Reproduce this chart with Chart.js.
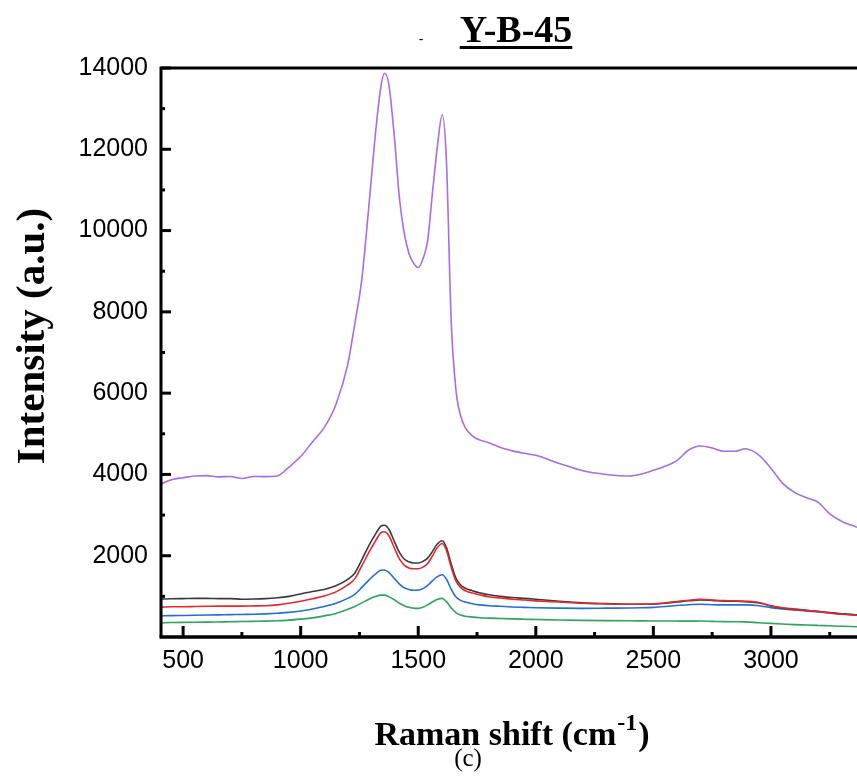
<!DOCTYPE html>
<html>
<head>
<meta charset="utf-8">
<script src="https://cdn.jsdelivr.net/npm/chart.js@4.4.1/dist/chart.umd.min.js"></script>
<style>
  html, body { margin: 0; padding: 0; background: #ffffff; }
  #wrap { position: relative; width: 857px; height: 776px; }
</style>
</head>
<body>
<div id="wrap"><canvas id="raman" width="857" height="776"></canvas></div>
<script>
// Raman shift sampling positions (cm-1)
const ramanShift = [406,450,500,550,600,650,700,750,800,850,900,950,1000,1050,1100,1150,1200,1230,1260,1290,1320,1340,1356,1375,1400,1420,1440,1460,1480,1500,1520,1540,1560,1580,1602,1620,1640,1660,1680,1700,1730,1760,1800,1850,1900,1950,2000,2100,2200,2300,2400,2450,2500,2550,2600,2650,2700,2750,2800,2850,2890,2950,3000,3050,3100,3150,3200,3250,3300,3366];

// Intensity of each spectrum (a.u.)
const violetSpectrum = [3760,3870,3920,3960,3970,3940,3950,3900,3950,3945,3960,4180,4440,4800,5150,5720,6700,7700,8800,10600,12500,13500,13870,13600,12200,10800,9950,9450,9200,9090,9300,9750,10900,12000,12850,11700,7800,6100,5450,5150,4950,4850,4780,4660,4580,4520,4470,4270,4090,4000,3960,4010,4100,4200,4340,4600,4700,4650,4570,4570,4630,4470,4150,3780,3560,3430,3320,3030,2850,2700];
const blackSpectrum = [935,940,945,950,950,945,945,930,935,945,965,1000,1060,1120,1170,1260,1420,1570,1900,2250,2550,2720,2750,2650,2330,2080,1920,1850,1820,1820,1860,1940,2100,2280,2370,2200,1800,1450,1280,1200,1140,1090,1040,1000,970,950,930,880,840,820,805,805,810,830,860,890,910,900,880,880,870,840,760,710,680,655,630,600,570,545];
const redSpectrum = [735,745,745,750,755,760,760,760,765,770,790,830,880,940,1010,1110,1280,1430,1750,2080,2380,2560,2590,2490,2170,1920,1770,1700,1680,1680,1720,1810,1990,2190,2300,2130,1720,1380,1220,1140,1080,1040,990,960,930,910,890,860,830,815,805,808,815,840,875,905,925,910,895,890,880,850,770,720,690,660,625,590,560,535];
const blueSpectrum = [520,525,530,535,540,545,550,555,560,570,585,605,640,690,750,830,950,1050,1220,1400,1560,1640,1650,1590,1430,1300,1210,1170,1150,1155,1190,1270,1380,1480,1530,1420,1180,990,900,860,820,790,770,755,740,730,720,710,705,710,715,720,730,750,775,795,805,795,790,790,790,770,720,690,665,640,620,595,570,545];
const greenSpectrum = [350,355,360,362,365,370,375,380,385,390,400,415,440,470,520,580,680,750,840,930,1000,1030,1030,990,910,830,770,730,710,705,730,790,860,920,950,870,720,600,540,510,490,475,465,455,445,438,432,420,410,403,398,396,395,395,392,390,392,385,378,375,372,350,335,320,305,295,285,275,265,253];

// Axis ticks
const xMajorTicks = [500,1000,1500,2000,2500,3000];
const xMinorTicks = [750,1250,1750,2250,2750,3250];
const yMajorTicks = [2000,4000,6000,8000,10000,12000,14000];
const yMinorTicks = [1000,3000,5000,7000,9000,11000,13000];

const serif = "'Liberation Serif', 'Times New Roman', serif";
const sans = "'Liberation Sans', Arial, sans-serif";

function series(values, color) {
  return {
    data: ramanShift.map((x, i) => ({ x: x, y: values[i] })),
    borderColor: color,
    borderWidth: 1.6,
    pointRadius: 0,
    fill: false,
    cubicInterpolationMode: 'monotone'
  };
}

// Frame, inward tick marks and text around the plot
const framePlugin = {
  id: 'frame',
  afterDatasetsDraw(chart) {
    const { ctx, chartArea: a, scales: { x, y } } = chart;
    ctx.save();
    ctx.strokeStyle = '#000';
    ctx.lineCap = 'butt';

    ctx.lineWidth = 3;
    ctx.beginPath();
    ctx.moveTo(a.left, a.bottom);
    ctx.lineTo(a.left, a.top);
    ctx.lineTo(a.right, a.top);
    ctx.stroke();

    ctx.lineWidth = 3.5;
    ctx.beginPath();
    ctx.moveTo(a.left - 1.5, a.bottom);
    ctx.lineTo(a.right, a.bottom);
    ctx.stroke();

    ctx.lineWidth = 3;
    const seg = (x1, y1, x2, y2) => { ctx.beginPath(); ctx.moveTo(x1, y1); ctx.lineTo(x2, y2); ctx.stroke(); };
    xMajorTicks.forEach(v => { const p = x.getPixelForValue(v); seg(p, a.bottom, p, a.bottom - 11); });
    xMinorTicks.forEach(v => { const p = x.getPixelForValue(v); seg(p, a.bottom, p, a.bottom - 5); });
    yMajorTicks.forEach(v => { const p = y.getPixelForValue(v); seg(a.left, p, a.left + 10, p); });
    yMinorTicks.forEach(v => { const p = y.getPixelForValue(v); seg(a.left, p, a.left + 4, p); });

    ctx.fillStyle = '#000';

    // Title with underline
    ctx.font = 'bold 38px ' + serif;
    ctx.textAlign = 'center';
    ctx.textBaseline = 'alphabetic';
    const title = 'Y-B-45';
    const tw = ctx.measureText(title).width;
    ctx.fillText(title, 516, 42);
    ctx.fillRect(516 - tw / 2, 46, tw, 3);

    ctx.font = '14px ' + sans;
    ctx.fillText('-', 421, 44);

    // Y axis title
    ctx.save();
    ctx.translate(33, 336);
    ctx.rotate(-Math.PI / 2);
    ctx.font = 'bold 41px ' + serif;
    ctx.textAlign = 'center';
    ctx.textBaseline = 'middle';
    ctx.fillText('Intensity (a.u.)', 0, 0);
    ctx.restore();

    // X axis title with superscript
    const mainFont = 'bold 34px ' + serif;
    const supFont = 'bold 24px ' + serif;
    ctx.textAlign = 'left';
    ctx.font = mainFont;
    const p1 = 'Raman shift (cm', p3 = ')';
    const w1 = ctx.measureText(p1).width, w3 = ctx.measureText(p3).width;
    ctx.font = supFont;
    const p2 = '-1';
    const w2 = ctx.measureText(p2).width;
    let sx = 512 - (w1 + w2 + w3 + 2) / 2;
    ctx.font = mainFont;
    ctx.fillText(p1, sx, 745);
    ctx.font = supFont;
    ctx.fillText(p2, sx + w1 + 1, 730);
    ctx.font = mainFont;
    ctx.fillText(p3, sx + w1 + w2 + 2, 745);

    ctx.font = '25px ' + serif;
    ctx.textAlign = 'center';
    ctx.fillText('(c)', 468, 766);

    ctx.restore();
  }
};

new Chart(document.getElementById('raman'), {
  type: 'line',
  data: {
    datasets: [
      series(violetSpectrum, '#a66de6'),
      series(redSpectrum, '#e8282c'),
      series(blackSpectrum, '#3a3a3a'),
      series(blueSpectrum, '#1f6fdc'),
      series(greenSpectrum, '#2ea55c')
    ]
  },
  options: {
    responsive: false,
    animation: false,
    devicePixelRatio: 1,
    layout: { padding: { top: 68, left: 0, right: 0, bottom: 0 } },
    plugins: { legend: { display: false }, tooltip: { enabled: false }, title: { display: false } },
    scales: {
      x: {
        type: 'linear',
        min: 406,
        max: 3366,
        afterFit: s => { s.height = 139; },
        afterBuildTicks: s => { s.ticks = xMajorTicks.map(v => ({ value: v })); },
        grid: { display: false, drawTicks: false },
        border: { display: false },
        ticks: { color: '#000', font: { family: sans, size: 25 }, padding: 9, maxRotation: 0, autoSkip: false, callback: v => String(v) }
      },
      y: {
        type: 'linear',
        min: 0,
        max: 14000,
        afterFit: s => { s.width = 161; },
        afterBuildTicks: s => { s.ticks = yMajorTicks.map(v => ({ value: v })); },
        grid: { display: false, drawTicks: false },
        border: { display: false },
        ticks: { color: '#000', font: { family: sans, size: 25 }, padding: 13, autoSkip: false, callback: v => String(v) }
      }
    }
  },
  plugins: [framePlugin]
});
</script>
</body>
</html>
